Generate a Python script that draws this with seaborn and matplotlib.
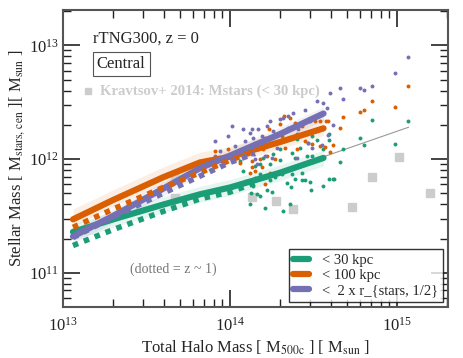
import numpy as np
import pandas as pd
import matplotlib
matplotlib.use('Agg')
import matplotlib.pyplot as plt
import seaborn as sns

# colores por apertura
c30 = '#1b9e77'
c100 = '#d95f02'
c2r = '#7570b3'

# medianas z = 0 (log10)
med_x = [13.06, 13.3, 13.6, 13.82, 14.0, 14.3, 14.56]
med_30 = [11.36, 11.47, 11.60, 11.69, 11.75, 11.88, 12.01]
med_100 = [11.47, 11.64, 11.84, 11.97, 12.02, 12.15, 12.27]
med_2r = [11.32, 11.50, 11.74, 11.92, 12.03, 12.22, 12.40]

# medianas z ~ 1 (punteadas)
z1_x = [13.06, 13.3, 13.6, 13.82, 14.0, 14.15]
z1_30 = [11.24, 11.38, 11.54, 11.65, 11.71, 11.79]
z1_100 = [11.40, 11.56, 11.75, 11.88, 11.99, 12.07]
z1_2r = [11.31, 11.49, 11.70, 11.85, 11.97, 12.05]

# ajuste extendido
fit_x = [14.56, 15.07]
fit_y = [12.02, 12.28]

# Kravtsov+ 2014
krav_x = [13.671, 13.671, 14.132, 14.275, 14.377, 14.731, 14.850, 15.012, 15.198]
krav_y = [11.833, 11.658, 11.667, 11.632, 11.561, 11.579, 11.842, 12.018, 11.702]

# halos individuales
pts_2r_x = [15.066, 14.988, 14.850, 14.802, 14.778, 14.677, 14.659, 14.599, 14.617, 14.587,
            14.581, 14.557, 14.521, 14.479, 14.449, 14.431, 14.407, 14.401, 14.377, 14.359,
            14.347, 14.347, 14.317, 14.299, 14.299, 14.281, 14.257, 14.240, 14.222, 14.222,
            14.192, 14.168, 14.168, 14.138, 14.132, 14.132, 14.120, 14.150, 14.210, 14.401,
            14.467, 14.491, 14.551, 14.162, 14.251, 14.090, 14.060, 14.030, 13.940, 13.910,
            13.970, 13.988, 13.910, 14.012, 14.078]
pts_2r_y = [12.895, 12.754, 12.640, 12.605, 12.623, 12.526, 12.623, 12.579, 12.298, 12.211,
            12.447, 12.491, 12.509, 12.333, 12.430, 12.316, 12.263, 12.219, 12.404, 12.175,
            12.377, 12.272, 12.360, 12.351, 12.158, 12.096, 12.246, 12.333, 12.289, 12.114,
            12.202, 12.263, 12.088, 12.184, 12.263, 12.044, 12.228, 12.000, 12.026, 12.009,
            12.140, 12.096, 12.123, 11.956, 12.009, 12.158, 12.070, 12.114, 12.070, 12.158,
            11.982, 12.202, 12.026, 12.289, 12.263]

pts_100_x = [15.066, 14.988, 14.850, 14.802, 14.778, 14.677, 14.659, 14.617, 14.587, 14.575,
             14.539, 14.509, 14.599, 14.323, 14.359, 14.389, 14.431, 14.473, 14.299, 14.269,
             14.311, 14.389, 14.449, 14.491, 14.539, 14.234, 14.210, 14.251, 14.329, 14.401,
             14.222, 14.269, 14.132, 14.120, 14.210, 14.317, 14.192, 14.150, 14.198, 14.180,
             14.132, 14.150, 14.240, 14.090, 14.030, 13.952, 13.910, 13.988, 14.060, 14.479,
             14.569]
pts_100_y = [12.640, 12.456, 12.509, 12.430, 12.412, 12.368, 12.272, 12.123, 12.333, 12.333,
             12.333, 12.333, 12.061, 12.377, 12.360, 12.316, 12.289, 12.351, 12.307, 12.219,
             12.202, 12.202, 12.158, 12.132, 12.114, 12.263, 12.184, 12.132, 12.096, 12.088,
             12.026, 12.000, 11.930, 11.877, 11.781, 11.895, 11.930, 12.140, 12.088, 12.000,
             11.982, 11.895, 11.877, 12.070, 12.026, 11.982, 12.070, 12.088, 11.965, 11.982,
             12.105]

pts_30_x = [15.066, 14.988, 14.850, 14.802, 14.778, 14.677, 14.659, 14.617, 14.593, 14.593,
            14.593, 14.557, 14.521, 14.431, 14.431, 14.449, 14.479, 14.485, 14.557, 14.623,
            14.126, 14.120, 14.162, 14.180, 14.222, 14.251, 14.210, 14.317, 14.359, 14.341,
            14.365, 14.389, 14.138, 14.138, 14.150, 14.180, 14.240, 14.269, 14.311, 14.371,
            14.299, 14.371, 14.419, 14.389, 14.299, 14.257, 14.198, 14.180, 14.150, 14.240,
            14.461, 14.491, 14.467, 14.491, 14.317, 14.401, 14.078, 14.096, 14.060]
pts_30_y = [12.333, 12.132, 12.342, 12.123, 12.184, 12.088, 11.974, 11.825, 11.825, 12.167,
            12.219, 12.088, 12.167, 11.877, 11.816, 11.816, 11.798, 11.728, 11.763, 11.825,
            11.702, 11.605, 11.693, 11.675, 11.728, 11.711, 11.570, 11.544, 11.605, 11.789,
            11.754, 11.825, 11.763, 11.807, 11.833, 11.868, 11.816, 11.842, 11.868, 11.868,
            12.088, 12.053, 12.096, 12.009, 11.991, 12.044, 12.009, 11.956, 11.939, 11.956,
            12.026, 12.026, 12.140, 12.202, 12.158, 12.175, 11.895, 11.807, 11.982]

sns.set_style('ticks')
plt.rcParams['font.family'] = ['Liberation Serif', 'DejaVu Serif']
plt.rcParams['mathtext.fontset'] = 'stix'

fig = plt.figure(figsize=(4.63, 3.58), dpi=100)
ax = fig.add_axes([0.136, 0.1425, 0.8315, 0.8296])

def lin(v):
    return np.power(10.0, np.asarray(v))

# bandas
bands = [(med_100, c100, 0.09, 0.06), (med_2r, c2r, 0.06, 0.06), (med_30, c30, 0.07, 0.07)]
for med, col, up, lo in bands:
    m = np.asarray(med)
    ax.fill_between(lin(med_x), lin(m - lo), lin(m + up), color=col, alpha=0.1, lw=0)

# puntos
for xs, ys, col in [(pts_30_x, pts_30_y, c30), (pts_100_x, pts_100_y, c100), (pts_2r_x, pts_2r_y, c2r)]:
    df = pd.DataFrame({'mh': lin(xs), 'ms': lin(ys)})
    sns.scatterplot(data=df, x='mh', y='ms', ax=ax, color=col, s=8, linewidth=0, zorder=3)

# Kravtsov
ax.plot(lin(krav_x), lin(krav_y), 's', color='#cccccc', ms=6, zorder=2)

# ajuste
ax.plot(lin(fit_x), lin(fit_y), '-', color='#999999', lw=0.8, zorder=2)

# medianas
for med, col, lab in [(med_30, c30, '< 30 kpc'), (med_100, c100, '< 100 kpc'),
                      (med_2r, c2r, '<  2 x r_{stars, 1/2}')]:
    ax.plot(lin(med_x), lin(med), '-', color=col, lw=4.5, label=lab, zorder=4)
for med, col in [(z1_30, c30), (z1_100, c100), (z1_2r, c2r)]:
    ax.plot(lin(z1_x), lin(med), color=col, lw=4, dashes=(1, 1.1), zorder=4)

ax.set_xscale('log')
ax.set_yscale('log')
ax.set_xlim(1e13, 10**15.305)
ax.set_ylim(10**10.70, 10**13.31)

ax.tick_params(which='both', direction='in', top=True, right=True, colors='#222222')
ax.tick_params(which='major', length=12, width=1.2, labelsize=12)
ax.tick_params(which='minor', length=6, width=1.0)
ax.tick_params(axis='y', which='major', pad=3)
ax.tick_params(axis='x', which='major', pad=7)
for sp in ax.spines.values():
    sp.set_color('#555555')
    sp.set_linewidth(1.5)

ax.set_xlabel(r'Total Halo Mass [ M$_{\rm 500c}$ ] [ M$_{\rm sun}$ ]', fontsize=12, labelpad=3)
ax.set_ylabel(r'Stellar Mass [ M$_{\rm stars,\, cen}$ ][ M$_{\rm sun}$ ]', fontsize=12, labelpad=1)

ax.text(0.078, 0.89, 'rTNG300, z = 0', transform=ax.transAxes, fontsize=12)
ax.text(0.088, 0.805, 'Central', transform=ax.transAxes, fontsize=12,
        bbox=dict(boxstyle='square,pad=0.25', facecolor='white', edgecolor='#555555', lw=0.8))
ax.plot([0.065], [0.728], 's', color='#cccccc', ms=5, transform=ax.transAxes)
ax.text(0.095, 0.728, 'Kravtsov+ 2014: Mstars (< 30 kpc)', transform=ax.transAxes,
        fontsize=10.6, fontweight='bold', color='#cccccc', va='center')
ax.text(0.175, 0.115, '(dotted = z ~ 1)', transform=ax.transAxes, fontsize=10, color='#777777')

leg = ax.legend(loc='lower right', fontsize=10.5, handlelength=1.1, frameon=True,
                fancybox=False, borderaxespad=0.35, handletextpad=0.9, labelspacing=0.15,
                borderpad=0.3)
leg.get_frame().set_edgecolor('black')
leg.get_frame().set_linewidth(1.0)

plt.savefig('out.png', dpi=100)
